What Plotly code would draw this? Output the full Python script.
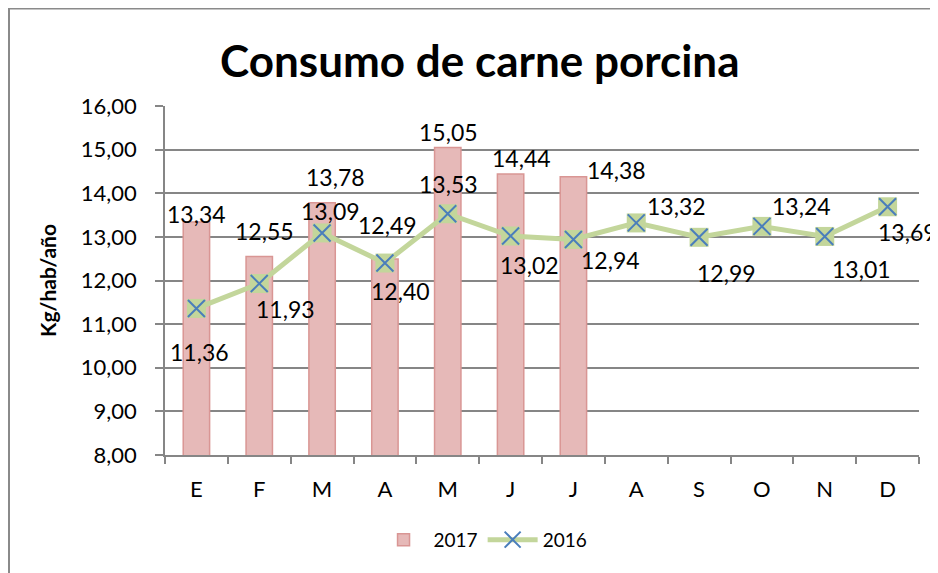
import plotly.graph_objects as go

months = ["Enero", "Febrero", "Marzo", "Abril", "Mayo", "Junio", "Julio",
          "Agosto", "Septiembre", "Octubre", "Noviembre", "Diciembre"]
month_letters = ["E", "F", "M", "A", "M", "J", "J", "A", "S", "O", "N", "D"]
values_2017 = [13.34, 12.55, 13.78, 12.49, 15.05, 14.44, 14.38]
values_2016 = [11.36, 11.93, 13.09, 12.40, 13.53, 13.02, 12.94, 13.32, 12.99, 13.24, 13.01, 13.69]

# label offsets (pixels) for the data labels
off_2017 = [(0, 8), (5, 26), (13, 26), (3, 34), (1, 15), (11, 16), (43, 7)]
off_2016 = [(3, -44), (26, -25), (8, 22), (16, -28), (1, 30), (19, -29), (37, -21),
            (40, 17), (27, -36), (40, 20), (37, -33), (20, -25)]

FONT = "Lato"
fmt = lambda v: f"{v:.2f}".replace(".", ",")

fig = go.Figure()
fig.add_trace(go.Bar(
    x=months[:len(values_2017)], y=values_2017, name="2017", width=0.42,
    marker=dict(color="#E6B9B8", line=dict(color="#D99694", width=1.5)),
))
fig.add_trace(go.Scatter(
    x=months, y=values_2016, mode="markers", showlegend=False,
    marker=dict(symbol="square", size=19, color="#C3D69B", line=dict(width=0)),
))
fig.add_trace(go.Scatter(
    x=months, y=values_2016, mode="lines+markers", name="2016",
    line=dict(color="#C3D69B", width=5),
    marker=dict(symbol="x-thin", size=17, color="#4A7EBB",
                line=dict(color="#4A7EBB", width=2)),
))

ann = []
for i, v in enumerate(values_2017):
    ann.append(dict(x=months[i], y=v, text=fmt(v), showarrow=False,
                    xshift=off_2017[i][0], yshift=off_2017[i][1],
                    font=dict(size=23, color="black", family=FONT)))
for i, v in enumerate(values_2016):
    ann.append(dict(x=months[i], y=v, text=fmt(v), showarrow=False,
                    xshift=off_2016[i][0], yshift=off_2016[i][1],
                    font=dict(size=23, color="black", family=FONT)))
ann.append(dict(xref="paper", yref="paper", x=-0.156, y=0.5, xanchor="center", yanchor="middle",
                text="<b>Kg/hab/año</b>",
                textangle=-90, showarrow=False, font=dict(size=21, color="black", family=FONT)))

fig.update_layout(
    width=938, height=573,
    margin=dict(l=157, r=27, t=98, b=126),
    paper_bgcolor="white", plot_bgcolor="white",
    separators=",.",
    font=dict(family=FONT, color="black"),
    title=dict(text="<b>Consumo de carne porcina</b>", x=0.503, xref="container",
               y=1 - 54 / 573, yref="container", xanchor="center", yanchor="middle",
               font=dict(size=44, color="black", family=FONT)),
    showlegend=True,
    legend=dict(orientation="h", x=0.4218, xanchor="center", y=-0.243, yanchor="middle",
                font=dict(size=19, color="black", family=FONT), traceorder="normal",
                itemwidth=50),
    annotations=ann,
    shapes=[dict(type="rect", xref="paper", yref="paper", x0=-0.2069, x1=1.05,
                 y0=-0.4, y1=1.2795, line=dict(color="#8a8a8a", width=2), layer="below")],
)
fig.update_xaxes(
    type="category", categoryorder="array", categoryarray=months,
    tickvals=months, ticktext=month_letters, tickson="boundaries",
    ticks="outside", ticklen=7, tickcolor="#868686", tickwidth=1.5,
    showline=True, linecolor="#868686", linewidth=1.5, showgrid=False,
    tickfont=dict(size=22, color="black", family=FONT), range=[-0.5, 11.5],
    ticklabelstandoff=14,
)
fig.update_yaxes(
    range=[8, 16], dtick=1, tick0=8, tickformat=".2f",
    ticks="outside", ticklen=8, tickcolor="#868686", tickwidth=1.5,
    showline=True, linecolor="#868686", linewidth=1.5,
    showgrid=True, gridcolor="#868686", gridwidth=1.5, zeroline=False,
    tickfont=dict(size=22, color="black", family=FONT), ticklabelstandoff=14,
)

fig.write_html("out.html")
